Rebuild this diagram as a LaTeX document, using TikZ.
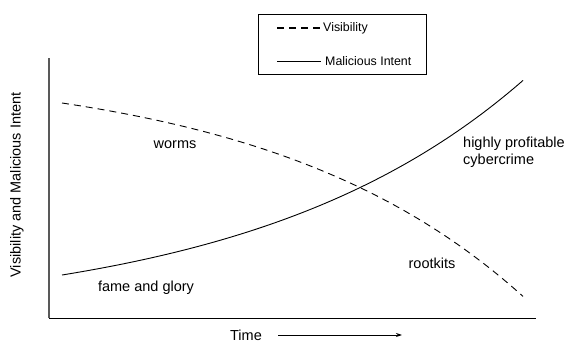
\documentclass[tikz,border=0pt]{standalone}
\usepackage{fontspec}
\setmainfont{Liberation Sans}
\usetikzlibrary{arrows.meta}
\begin{document}
\begin{tikzpicture}[x=1pt,y=-1pt,
  lbl/.style={font=\fontsize{14.5}{17}\selectfont, inner sep=0pt},
  leg/.style={font=\fontsize{12.4}{15}\selectfont, inner sep=0pt, anchor=west},
  vis/.style={line width=0.9pt, dash pattern=on 7pt off 5pt},
  mal/.style={line width=0.9pt}]
\useasboundingbox (0,0) rectangle (571,342);
% axes
\coordinate (o) at (49,318);
\coordinate (ytop) at (49,58);
\coordinate (xend) at (536,318);
\draw[line width=1.2pt, gray!70!black] (o) -- (ytop);
\draw[line width=0.9pt] (o) -- (xend);
% legend
\node[draw, line width=0.7pt, minimum width=168pt, minimum height=60pt, inner sep=0pt] (legend) at (342,44) {};
\coordinate (l1a) at (277,28);
\coordinate (l1b) at (321,28);
\coordinate (l2a) at (277,61);
\coordinate (l2b) at (321,61);
\draw[vis, line width=1.2pt] (l1a) -- (l1b);
\draw[mal, line width=0.7pt] (l2a) -- (l2b);
\node[leg] (tvis) at (323,28) {Visibility};
\node[leg] (tmal) at (325,61) {Malicious Intent};
% curves
\draw[vis] plot[domain=62:523, samples=120, smooth] (\x, {103 + 30.6*(exp(0.00388*\x) - exp(0.00388*62))});
\draw[mal] plot[domain=62:523, samples=120, smooth] (\x, {275 - 35.5*(exp(0.00365*\x) - exp(0.00365*62))});
% labels
\node[lbl] (worms) at (175,145) {worms};
\node[lbl] (fame) at (146,288) {fame and glory};
\node[lbl] (rootkits) at (432,263) {rootkits};
\node[lbl, anchor=west, align=left] (hpc) at (463,152) {highly profitable\\cybercrime};
\node[lbl, rotate=90] (ylabel) at (17,185) {Visibility and Malicious Intent};
\node[lbl] (time) at (246,335) {Time};
\coordinate (ta) at (278,335);
\coordinate (tb) at (402,335);
\draw[line width=0.9pt, -{Stealth[length=6pt,width=4pt]}] (ta) -- (tb);
\end{tikzpicture}
\end{document}
